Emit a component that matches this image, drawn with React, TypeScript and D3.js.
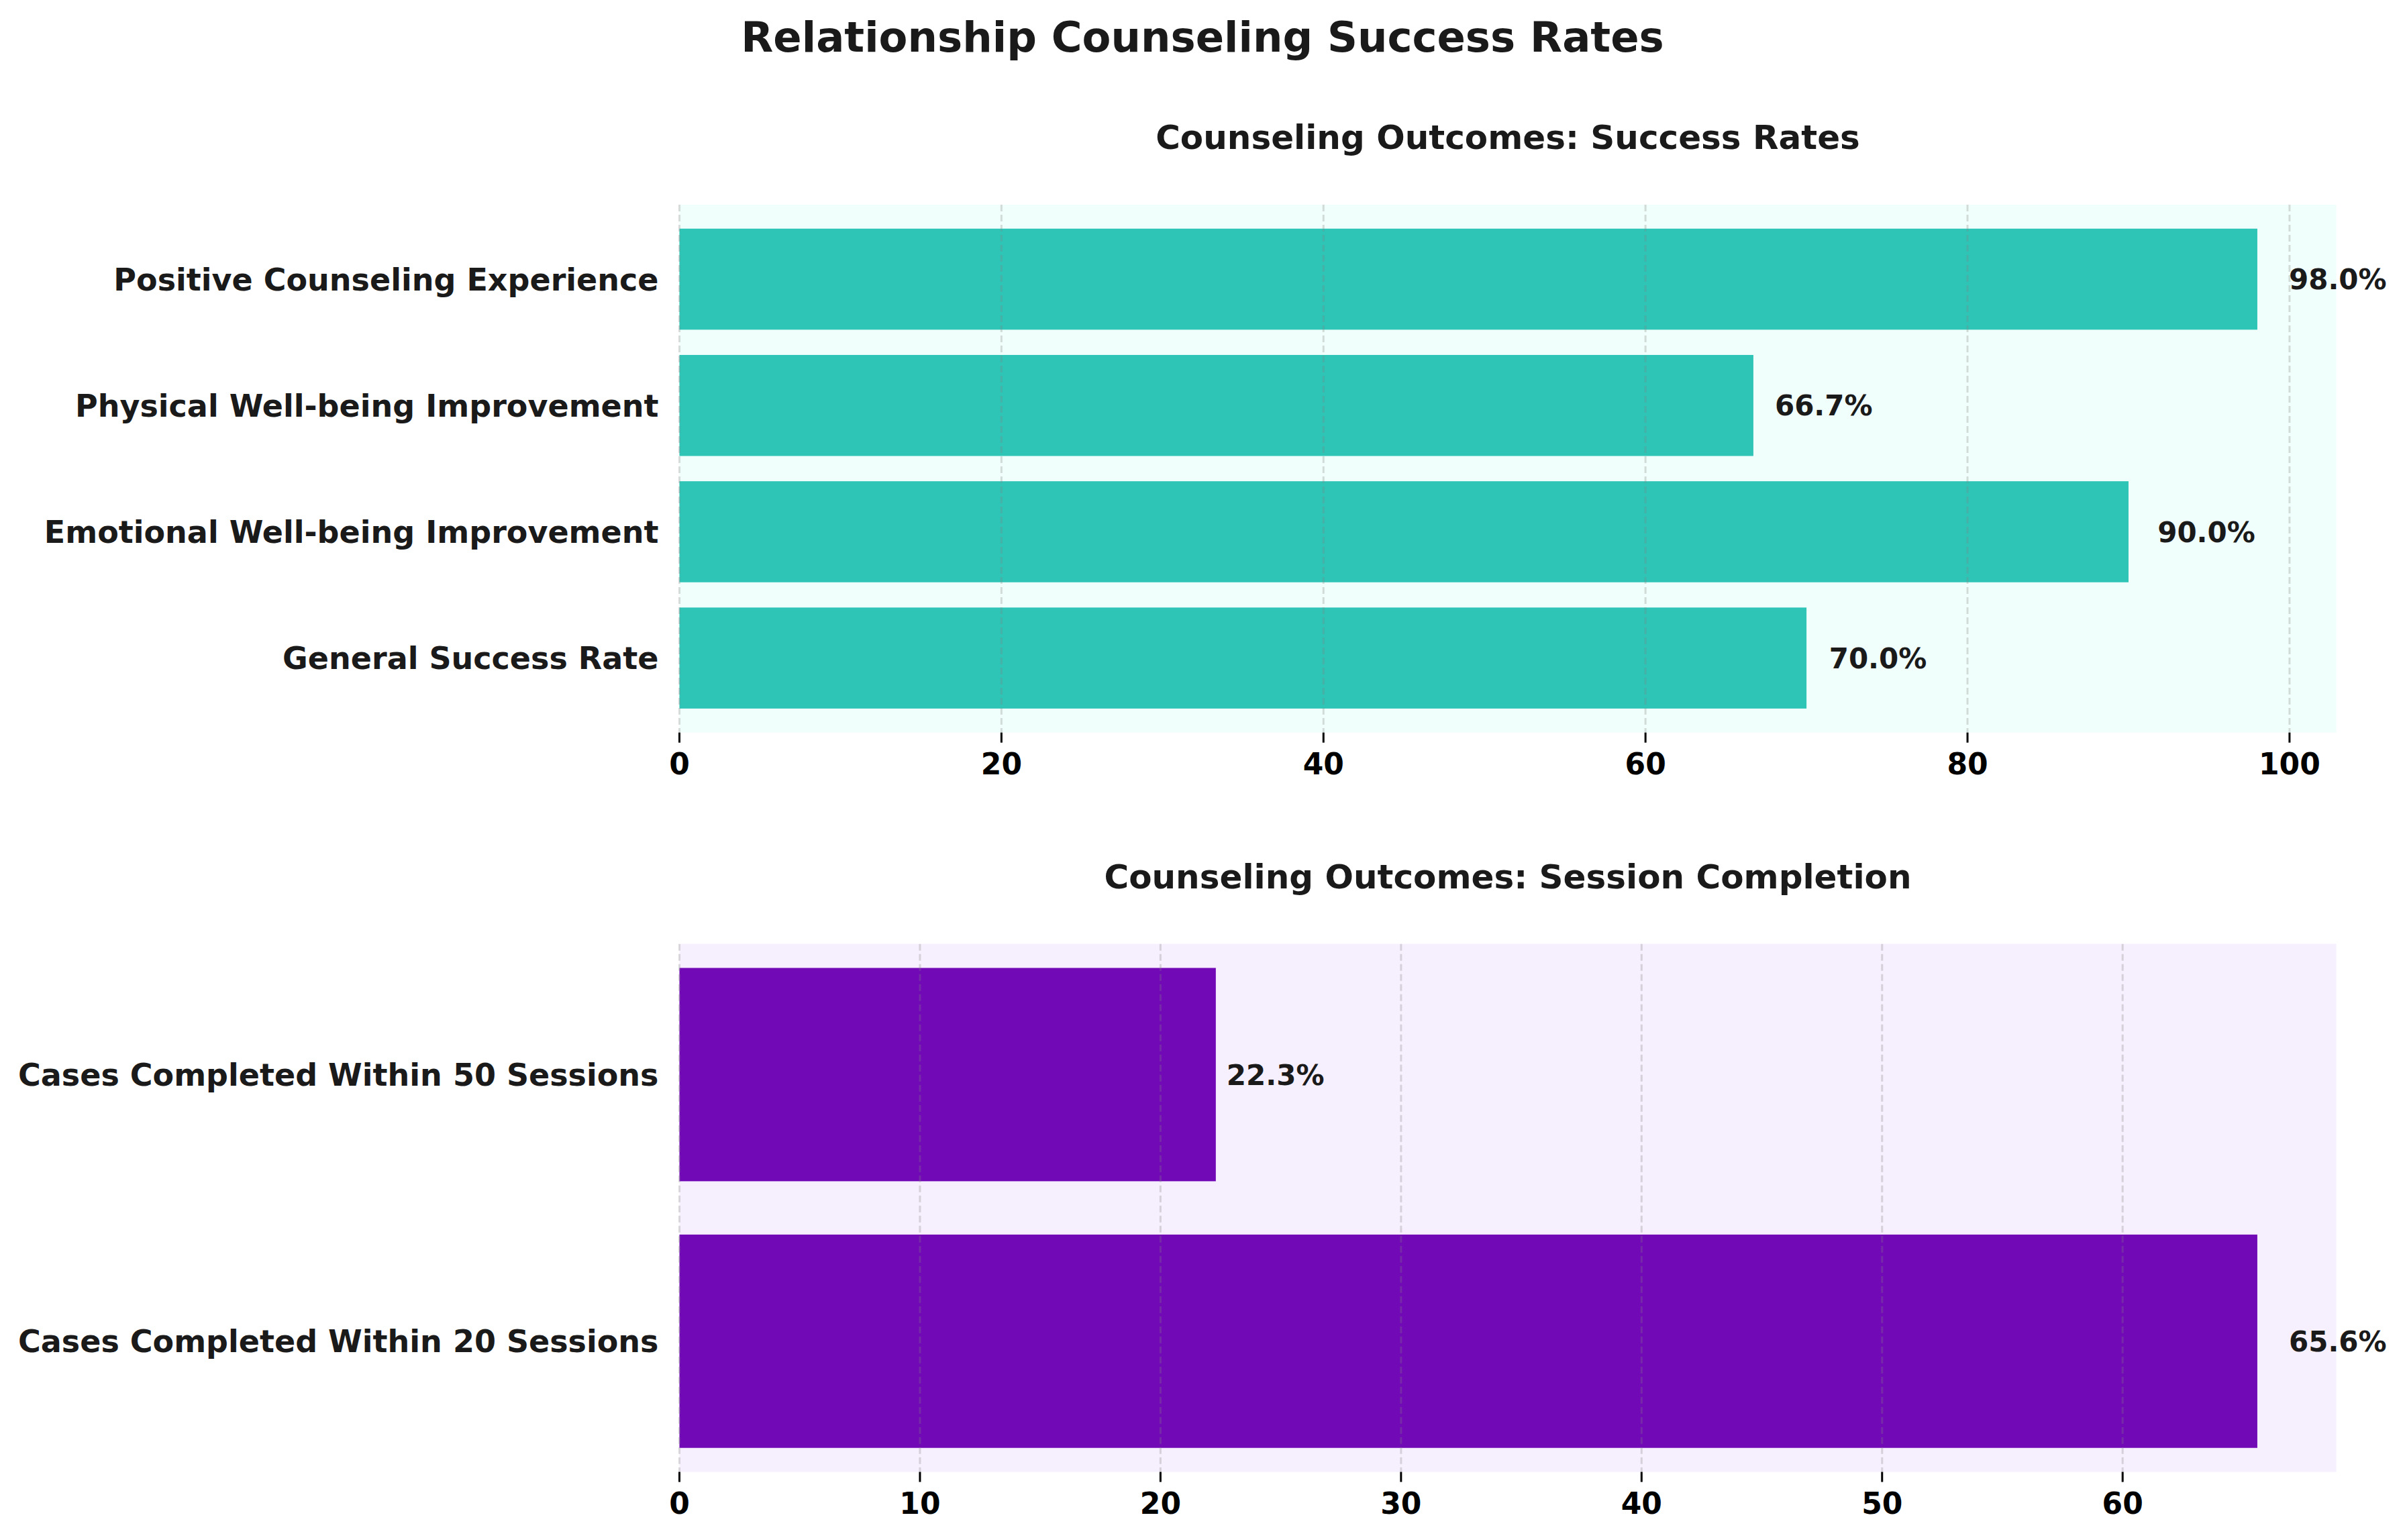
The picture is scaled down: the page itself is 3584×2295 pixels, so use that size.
import React, { useEffect } from "react";
import * as d3 from "d3";

const W = 3584;
const H = 2295;

const successCategories = [
  "General Success Rate",
  "Emotional Well-being Improvement",
  "Physical Well-being Improvement",
  "Positive Counseling Experience",
];
const successValues = [70.0, 90.0, 66.7, 98.0];
const successTicks = [0, 20, 40, 60, 80, 100];

const sessionCategories = [
  "Cases Completed Within 20 Sessions",
  "Cases Completed Within 50 Sessions",
];
const sessionValues = [65.6, 22.3];
const sessionTicks = [0, 10, 20, 30, 40, 50, 60];

const FONT = "'DejaVu Sans', sans-serif";

type PanelProps = {
  categories: string[];
  values: number[];
  ticks: number[];
  top: number;
  bottom: number;
  title: string;
  titleY: number;
  barColor: string;
  bgColor: string;
};

const LEFT = 1012.5;
const RIGHT = 3481.5;

function Panel(p: PanelProps) {
  const maxV = d3.max(p.values) as number;
  const x = d3.scaleLinear().domain([0, maxV * 1.05]).range([LEFT, RIGHT]);
  const n = p.categories.length;
  const lo = -0.4, hi = n - 1 + 0.4;
  const m = (hi - lo) * 0.05;
  const y = d3.scaleLinear().domain([lo - m, hi + m]).range([p.bottom, p.top]);
  const bh = y(0) - y(0.8);
  return (
    <g>
      <rect x={LEFT} y={p.top} width={RIGHT - LEFT} height={p.bottom - p.top} fill={p.bgColor} />
      {p.values.map((v, i) => (
        <rect key={i} x={x(0)} y={y(i + 0.4)} width={x(v) - x(0)} height={bh} fill={p.barColor} />
      ))}
      {p.ticks.map((t) => (
        <line key={"g" + t} x1={x(t)} x2={x(t)} y1={p.top} y2={p.bottom}
          stroke="#808080" strokeOpacity={0.28} strokeWidth={3} strokeDasharray="10,5" />
      ))}
      {p.ticks.map((t) => (
        <g key={"t" + t}>
          <line x1={x(t)} x2={x(t)} y1={p.bottom} y2={p.bottom + 15} stroke="#000" strokeWidth={3} />
          <text x={x(t)} y={p.bottom + 62} textAnchor="middle" fontFamily={FONT}
            fontWeight="bold" fontSize={44} fill="#000">{t}</text>
        </g>
      ))}
      {p.categories.map((c, i) => (
        <text key={"c" + i} x={LEFT - 31} y={y(i)} dy="0.36em" textAnchor="end"
          fontFamily={FONT} fontWeight="bold" fontSize={46} fill="#1a1a1a">{c}</text>
      ))}
      {p.values.map((v, i) => (
        <text key={"v" + i} x={x(v * 1.02)} y={y(i)} dy="0.36em" textAnchor="start"
          fontFamily={FONT} fontWeight="bold" fontSize={42} fill="#1a1a1a">{v.toFixed(1)}%</text>
      ))}
      <text x={(LEFT + RIGHT) / 2} y={p.titleY} textAnchor="middle" fontFamily={FONT}
        fontWeight="bold" fontSize={50} fill="#1a1a1a">{p.title}</text>
    </g>
  );
}

export default function App() {
  useEffect(() => {
    document.body.style.margin = "0";
  }, []);
  return (
    <svg width={W} height={H} style={{ position: "absolute", left: 0, top: 0, background: "#fff" }}>
      <rect x={0} y={0} width={W} height={H} fill="#fff" />
      <text x={1792} y={77} textAnchor="middle" fontFamily={FONT} fontWeight="bold"
        fontSize={62.5} fill="#1a1a1a">Relationship Counseling Success Rates</text>
      <Panel categories={successCategories} values={successValues} ticks={successTicks}
        top={305} bottom={1091.7} title="Counseling Outcomes: Success Rates" titleY={221.7}
        barColor="#2EC4B6" bgColor="#F0FFFB" />
      <Panel categories={sessionCategories} values={sessionValues} ticks={sessionTicks}
        top={1406.7} bottom={2193.5} title="Counseling Outcomes: Session Completion" titleY={1324}
        barColor="#7209B7" bgColor="#F6EFFD" />
    </svg>
  );
}
